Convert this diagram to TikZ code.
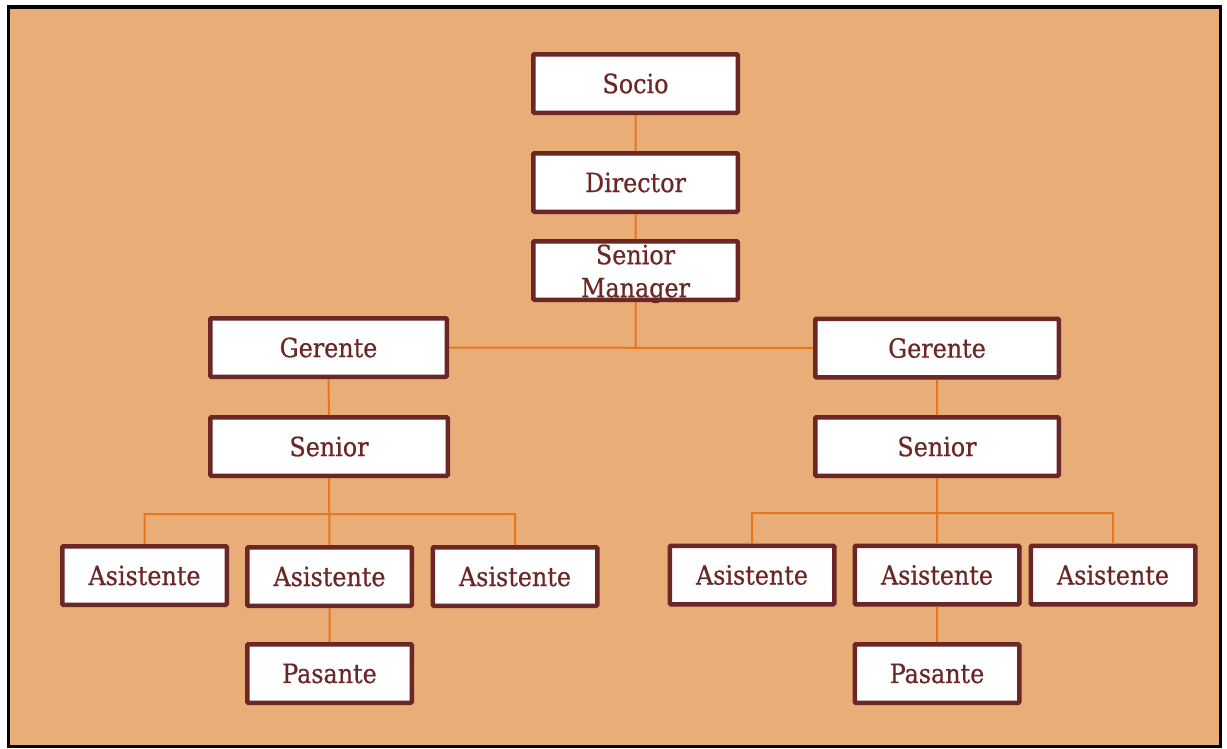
\documentclass[tikz,border=0pt]{standalone}
\usepackage{fontspec}
\setmainfont[FakeBold=0.6]{DejaVu Serif Condensed}
\usetikzlibrary{positioning}
\definecolor{fondo}{HTML}{E9AD78}
\definecolor{granate}{HTML}{6B2626}
\definecolor{naranja}{HTML}{E4781E}
\tikzset{
puesto/.style={draw=granate, line width=4.5pt, fill=white, text=granate,
  inner sep=0pt, minimum height=58.5pt, minimum width=164.5pt, align=center,
  rounded corners=1pt, font=\fontsize{26.5}{33}\selectfont},
ancho/.style={minimum width=204.5pt},
medio/.style={minimum width=#1},
enlace/.style={draw=naranja, line width=2pt},
}

\begin{document}
\begin{tikzpicture}[x=1pt, y=-1pt]
    \useasboundingbox (0,0) rectangle (1227,748);
    \draw[fill=fondo, line width=3.5pt] (8.5,7) rectangle (1220.5,746.5);
    \coordinate (busl) at (329,514);
    \coordinate (busr) at (937,513);
    \node[puesto, ancho] (soc) at (635.5,83.5) {Socio};
    \node[puesto, ancho] (dir) at (635.5,182.5) {Director};
    \node[puesto, ancho] (sm) at (635.5,270.5) {\raisebox{-9.5pt}[0pt][0pt]{\parbox{200pt}{\centering Senior\\Manager}}};
    \node[puesto, medio=236.5pt] (gl) at (328.5,347.5) {Gerente};
    \node[puesto, medio=243.5pt] (gr) at (937,348) {Gerente};
    \node[puesto, medio=237.5pt] (sl) at (329,446.5) {Senior};
    \node[puesto, medio=243.5pt] (sr) at (937,446.5) {Senior};
    \node[puesto] (al1) at (144.5,575.5) {Asistente};
    \node[puesto] (al2) at (329.5,576.5) {Asistente};
    \node[puesto] (al3) at (515,576.5) {Asistente};
    \node[puesto] (pl) at (329.5,673.5) {Pasante};
    \node[puesto] (ar1) at (752,575) {Asistente};
    \node[puesto] (ar2) at (937,575) {Asistente};
    \node[puesto] (ar3) at (1113,575) {Asistente};
    \node[puesto] (pr) at (937,673.5) {Pasante};
    % lineas del organigrama
    \draw[enlace]
        (soc) -- (dir)
        (dir) -- (sm)
        (sm.south) -- (sm.south |- gl.east)
        (gl.east) -- (gr.west)
        (gl) -- (sl)
        (gr) -- (sr)
        (sl) -- (al2)
        (al1.north) |- (busl) -| (al3.north)
        (al2) -- (pl)
        (sr) -- (ar2)
        (ar1.north) |- (busr) -| (ar3.north)
        (ar2) -- (pr)
    ;
\end{tikzpicture}
\end{document}
